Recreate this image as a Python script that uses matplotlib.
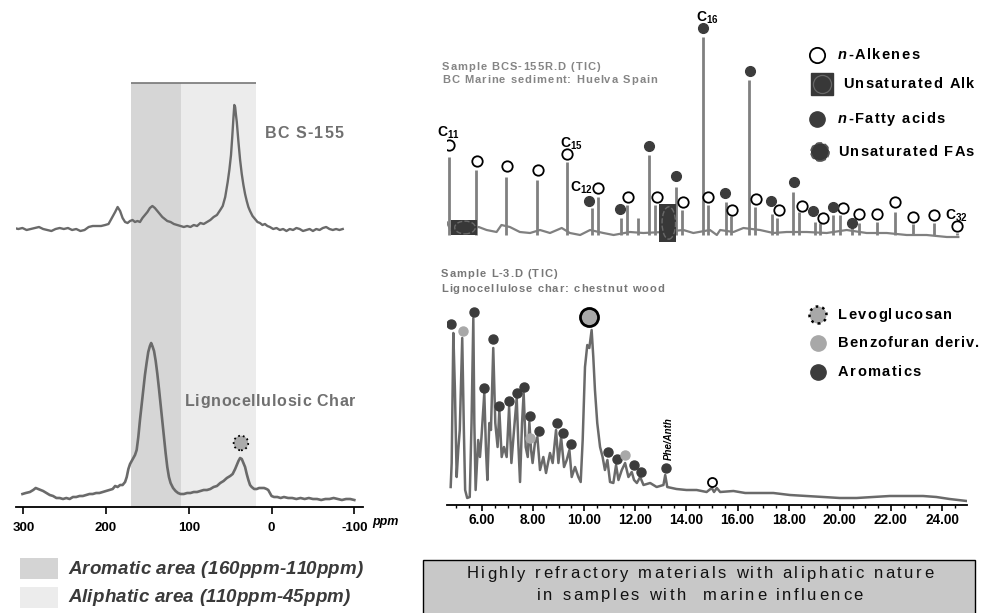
import numpy as np
import matplotlib.pyplot as plt
from matplotlib.patches import Rectangle, Ellipse
from matplotlib.ticker import MultipleLocator

plt.rcParams['font.family'] = ['Liberation Sans', 'DejaVu Sans']
plt.rcParams['axes.unicode_minus'] = False
plt.rcParams['mathtext.fontset'] = 'custom'
plt.rcParams['mathtext.rm'] = 'Liberation Sans:bold'
plt.rcParams['mathtext.it'] = 'Liberation Sans:italic:bold'
plt.rcParams['mathtext.bf'] = 'Liberation Sans:bold'

W, H = 987, 613

# ---- 13C NMR spectra (ppm, intensity) ----
bc_ppm = [316, 311, 306, 301, 296, 291, 286, 281, 276, 271, 266, 261, 256, 251, 246, 241,
          236, 231, 226, 221, 216, 211, 206, 201, 197, 193, 189, 186, 183, 180, 177, 174,
          171, 168, 165, 162, 159, 156, 153, 150, 147, 144, 141, 138, 135, 132, 129, 126,
          122, 118, 114, 110, 106, 102, 98, 94, 90, 86, 82, 78, 74, 70, 66, 62, 59, 56, 53,
          51, 49, 47.5, 46, 45, 44, 43, 42, 40, 38, 36, 34, 32, 30, 28, 26, 23, 20, 17, 14,
          11, 8, 5, 2, -2, -6, -10, -14, -18, -22, -26, -30, -34, -38, -42, -46, -50, -54,
          -58, -62, -66, -70, -74, -78, -82, -86]
bc_int = [280, 279, 278, 279, 277, 278, 279, 280, 278, 277, 276, 278, 279, 278, 279, 277,
          278, 276, 277, 280, 281, 281, 281, 282, 283, 289, 295, 300, 296, 289, 285, 284,
          286, 287, 285, 286, 285, 289, 292, 295, 299, 301, 299, 296, 293, 290, 288, 286,
          285, 283, 282, 281, 280, 281, 280, 282, 281, 284, 283, 285, 287, 290, 292, 297,
          301, 310, 325, 337, 352, 370, 390, 402, 400, 392, 385, 365, 347, 333, 322, 313,
          306, 300, 296, 291, 288, 285, 284, 282, 283, 281, 280, 278, 279, 277, 278, 276,
          278, 277, 279, 278, 276, 277, 278, 276, 278, 277, 279, 280, 278, 277, 278, 277, 278]

lig_ppm = [301, 297, 292, 288, 285, 282, 279, 276, 272, 268, 264, 260, 256, 252, 248, 244,
           240, 236, 232, 228, 224, 220, 216, 212, 208, 204, 200, 196, 192, 189, 186, 183,
           180, 177, 175, 173, 171, 169, 167, 165, 163, 161, 159, 157, 155, 153, 151, 149,
           147, 145.5, 144, 142, 140, 138, 136, 134, 132, 130, 128, 126, 124, 122, 119, 116,
           113, 110, 106, 102, 98, 94, 90, 86, 82, 78, 74, 70, 66, 62, 58, 54, 50, 47, 44,
           42, 40, 38, 36, 34, 32, 30, 28, 26, 24, 21, 18, 15, 12, 9, 6, 4, 2, 0, -3, -7,
           -11, -15, -20, -25, -30, -35, -40, -45, -50, -55, -60, -65, -70, -75, -80, -85,
           -90, -95, -100]
lig_int = [13, 14, 15, 17, 19, 18, 17, 16, 14, 12, 11, 9, 9, 8, 9, 8,
           10, 10, 11, 11, 12, 13, 13, 14, 14, 15, 16, 17, 18, 21, 20, 22,
           22, 25, 30, 38, 43, 46, 49, 52, 57, 70, 87, 102, 117, 132, 144, 155,
           161, 164, 161, 156, 146, 133, 118, 102, 86, 70, 54, 40, 30, 24, 19, 16,
           14, 13, 13, 14, 14, 15, 15, 16, 17, 17, 18, 20, 21, 24, 26, 29, 31, 33, 38,
           42, 46, 49, 48, 44, 40, 33, 27, 22, 20, 18, 18, 19, 19, 19, 18, 17, 14, 11, 10, 10,
           9, 10, 9, 9, 8, 9, 8, 9, 8, 8, 7, 8, 8, 9, 8, 7,
           8, 8, 7]

arom_region = (170, 110)
aliph_region = (110, 19)
char_mark = (37, 64)

# ---- Py-GC/MS chromatograms (retention time min, abundance) ----
bc_base_t = [4.49, 4.62, 4.77, 5.27, 5.87, 6.18, 6.57, 6.76, 7.09, 7.48, 7.88, 8.27, 8.66,
             9.12, 9.44, 9.84, 10.23, 10.75, 11.15, 11.79, 12.31, 13.1, 13.88, 14.27, 14.92,
             15.19, 15.32, 15.84, 16.23, 16.88, 17.4, 17.92, 18.71, 19.49, 20.27, 21.05,
             21.84, 22.62, 23.4, 24.19, 24.64]
bc_base_i = [15, 23, 15, 15, 18, 15, 13, 20, 18, 13, 12, 15, 12,
             17, 12, 10, 15, 12, 10, 13, 12, 13, 15, 12, 15,
             10, 15, 13, 17, 15, 12, 13, 13, 12, 15, 12,
             12, 10, 10, 8, 8]

bc_peak_t = [4.71, 5.78, 6.95, 8.15, 9.33, 10.32, 10.54, 11.43, 11.69, 12.12, 12.54, 12.78,
             13.58, 13.84, 14.64, 14.83, 15.54, 15.75, 16.46, 16.68, 17.34, 17.56, 18.18,
             18.41, 19.03, 19.23, 19.75, 20.01, 20.49, 20.77, 21.47, 22.18, 22.88, 23.7, 24.58]
bc_peak_i = [88, 75, 68, 65, 83, 37, 48, 27, 40, 27, 90, 40,
             58, 35, 208, 40, 43, 29, 165, 38, 31, 27, 53,
             33, 23, 22, 30, 30, 18, 22, 23, 33, 21, 22, 12]

alkene_t = [4.71, 5.8, 6.98, 8.18, 9.34, 10.54, 11.73, 12.83, 13.88, 14.86, 15.8, 16.73,
            17.64, 18.54, 19.35, 20.11, 20.77, 21.45, 22.18, 22.86, 23.7, 24.58]
alkene_i = [100, 84, 79, 75, 91, 57, 48, 48, 43, 48, 35, 46, 35, 39, 27, 37, 31, 31, 43, 28,
            30, 19]
fa_t = [10.2, 11.39, 12.54, 13.58, 14.64, 15.51, 16.49, 17.3, 18.2, 18.95, 19.75, 20.49]
fa_i = [44, 36, 99, 69, 217, 52, 174, 44, 63, 34, 38, 22]

unsat_alk_span = (4.78, 5.79, 10, 25)   # t0, t1, i0, i1
unsat_fa_span = (12.93, 13.59, 3, 41)

carbon_labels = ['11', '15', '12', '16', '32']
carbon_t = [4.67, 9.48, 9.88, 14.8, 24.57]
carbon_i = [112, 101, 57, 227, 29]

lc_t = [4.774, 4.813, 4.878, 4.94, 5.008, 5.07, 5.13, 5.226, 5.29, 5.34, 5.42, 5.52, 5.59,
        5.66, 5.70, 5.75, 5.85, 5.92, 5.98, 6.09, 6.156, 6.21, 6.287, 6.35, 6.44, 6.52,
        6.61, 6.678, 6.77, 6.86, 6.965, 7.06, 7.15, 7.253, 7.358, 7.42, 7.488, 7.566, 7.63,
        7.71, 7.79, 7.853, 7.92, 7.98, 8.07, 8.167, 8.27, 8.40, 8.505, 8.66, 8.766, 8.897,
        8.99, 9.095, 9.21, 9.316, 9.42, 9.51, 9.64, 9.77, 9.862, 9.94, 10.03, 10.12, 10.2,
        10.29, 10.355, 10.42, 10.51, 10.62, 10.72, 10.81, 10.907, 11.01, 11.14, 11.246,
        11.34, 11.47, 11.6, 11.73, 11.86, 11.95, 12.06, 12.19, 12.32, 12.58, 12.835, 13.1,
        13.17, 13.25, 13.61, 14.0, 14.4, 14.79, 14.99, 15.08, 15.19, 15.32, 15.84, 16.3,
        16.75, 17.4, 18.05, 18.7, 19.36, 20.0, 20.66, 21.3, 21.96, 22.6, 23.26, 23.78,
        24.3, 24.97]
lc_i = [18, 42, 172, 115, 28, 55, 75, 167, 75, 15, 7, 8, 82,
        187, 82, 15, 65, 48, 68, 112, 55, 25, 82, 75, 157, 82,
        58, 95, 48, 58, 48, 98, 42, 75, 107, 62, 23, 82, 112,
        58, 48, 83, 55, 42, 62, 68, 35, 48, 32, 52, 42, 75,
        42, 68, 38, 45, 55, 28, 38, 28, 23, 65, 138, 160, 157,
        175, 148, 115, 82, 58, 48, 35, 45, 23, 22, 40,
        25, 35, 42, 28, 33, 25, 22, 28, 20, 22, 18, 20,
        30, 18, 16, 15, 15, 13, 17, 13, 17, 13, 14, 12,
        12, 12, 10, 9, 8, 7, 7, 8, 9, 9, 9, 8,
        6, 4]

arom_t = [4.78, 5.68, 6.09, 6.42, 6.67, 7.06, 7.36, 7.64, 7.87, 8.22, 8.92, 9.16, 9.48,
          10.94, 11.27, 11.96, 12.22, 13.2]
arom_i = [181, 193, 117, 166, 99, 104, 112, 118, 89, 74, 82, 72, 61, 53, 46, 40, 33, 37]
benzo_t = [5.24, 7.89, 11.6]
benzo_i = [174, 67, 50]
levo_t, levo_i = 10.2, 188
lc_alkene_t, lc_alkene_i = 15.01, 23

DARK = '#3c3c3c'

fig = plt.figure(figsize=(W / 100, H / 100), dpi=100)
renderer = fig.canvas.get_renderer()


def rect(x0, y0, x1, y1):
    return [x0 / W, 1 - y1 / H, (x1 - x0) / W, (y1 - y0) / H]


# ---------- NMR panel ----------
ax = fig.add_axes(rect(16, 83, 363, 507))
ax.axvspan(*arom_region, color='#d6d6d6', lw=0, zorder=0)
ax.axvspan(*aliph_region, color='#ececec', lw=0, zorder=0)
ax.hlines(424, arom_region[0], aliph_region[1], color='#777777', lw=1.2, clip_on=False)
ax.plot(bc_ppm, bc_int, color='#6a6a6a', lw=1.7)
ax.plot(lig_ppm, lig_int, color='#6a6a6a', lw=1.9)
ax.scatter([char_mark[0]], [char_mark[1]], s=110, facecolor='#ababab', edgecolor='black',
           linewidths=1.3, linestyles=':', zorder=5)
ax.set_xlim(308.8, -110.5)
ax.set_ylim(0, 424)
for s in ['top', 'left', 'right']:
    ax.spines[s].set_visible(False)
ax.spines['bottom'].set_linewidth(1.3)
ax.set_yticks([])
ax.set_xticks([300, 200, 100, 0, -100])
ax.set_xticklabels(['300', '200', '100', '0', '-100'], fontweight='bold')
ax.tick_params(axis='x', length=5, width=1.2, labelsize=9.5, pad=6)
ax.set_facecolor('none')

# ---------- upper chromatogram ----------
cu = fig.add_axes(rect(447, 10, 967, 245))
cu.plot(bc_base_t, bc_base_i, color='#808080', lw=1.6)
cu.vlines(bc_peak_t, 10, bc_peak_i, color='#808080', lw=2.0)
for t0, t1, i0, i1 in [unsat_alk_span, unsat_fa_span]:
    cu.add_patch(Rectangle((t0, i0), t1 - t0, i1 - i0, facecolor='#383838',
                           edgecolor='none', zorder=4))
    cu.add_patch(Ellipse(((t0 + t1) / 2 + 0.05, (i0 + i1) / 2), (t1 - t0) * 0.8,
                         (i1 - i0) * 0.85, facecolor='none', edgecolor='#6a6a6a',
                         ls='--', lw=1.0, zorder=5))
cu.plot(alkene_t, alkene_i, 'o', ms=7.5, mfc='white', mec='black', mew=1.3, zorder=6)
cu.plot(fa_t, fa_i, 'o', ms=7, mfc=DARK, mec=DARK, zorder=6)
for lab, t, i in zip(carbon_labels, carbon_t, carbon_i):
    cu.text(t, i, r'$\mathbf{C_{%s}}$' % lab, fontsize=10, ha='center', va='center')
cu.set_xlim(4.63, 24.98)
cu.set_ylim(0, 235)
cu.axis('off')

# ---------- lower chromatogram ----------
cl = fig.add_axes(rect(447, 300, 967, 505))
cl.plot(lc_t, lc_i, color='#6a6a6a', lw=1.8)
cl.plot(arom_t, arom_i, 'o', ms=6.5, mfc=DARK, mec=DARK, zorder=6)
cl.plot(benzo_t, benzo_i, 'o', ms=6.5, mfc='#a8a8a8', mec='#a8a8a8', zorder=6)
cl.plot([levo_t], [levo_i], 'o', ms=13, mfc='#a8a8a8', mec='black', mew=2, zorder=6)
cl.plot([lc_alkene_t], [lc_alkene_i], 'o', ms=6.5, mfc='white', mec='black', mew=1.3, zorder=6)
cl.text(13.3, 66, 'Phe/Anth', rotation=90, fontsize=7, fontweight='bold',
        fontstyle='italic', ha='center', va='center')
cl.set_xlim(4.63, 24.98)
cl.set_ylim(0, 205)
for s in ['top', 'left', 'right']:
    cl.spines[s].set_visible(False)
cl.spines['bottom'].set_linewidth(1.3)
cl.set_yticks([])
ticks = np.arange(6, 25, 2)
cl.set_xticks(ticks)
cl.set_xticklabels(['%.2f' % v for v in ticks], fontweight='bold')
cl.xaxis.set_minor_locator(MultipleLocator(0.5))
cl.tick_params(axis='x', which='major', length=4, width=1.2, labelsize=9.8, pad=2)
cl.tick_params(axis='x', which='minor', length=2.5, width=1.0)
cl.set_facecolor('none')

# ---------- annotations / legends (pixel overlay) ----------
ov = fig.add_axes([0, 0, 1, 1])
ov.set_xlim(0, W)
ov.set_ylim(H, 0)
ov.axis('off')


def text_width(s, **kw):
    t = ov.text(0, 0, s, **kw)
    w = t.get_window_extent(renderer=renderer).width
    t.remove()
    return w


def spaced(x, y, s, track, ha='left', **kw):
    # text with extra letter spacing, as in the original figure
    bar = text_width('|', **kw)
    pos = [text_width(s[:i] + '|', **kw) - bar + i * track for i in range(len(s))]
    total = pos[-1] + text_width(s[-1], **kw)
    if ha == 'center':
        x = x - total / 2
    for ch, p in zip(s, pos):
        if ch != ' ':
            ov.text(x + p, y, ch, ha='left', va='center', **kw)
    return x + total


ov.text(372, 522, 'ppm', fontsize=9, fontweight='bold', fontstyle='italic', va='center')
spaced(304, 133, 'BC S-155', 1.1, ha='center', fontsize=11.5, fontweight='bold',
       color='#707070')
spaced(270, 401, 'Lignocellulosic Char', 0.7, ha='center', fontsize=11.5,
       fontweight='bold', color='#707070')

title_kw = dict(fontsize=8, fontweight='bold')
spaced(442, 67, 'Sample BCS-155R.D (TIC)', 1.0, color='#858585', **title_kw)
spaced(442, 80, 'BC Marine sediment: Huelva Spain', 1.0, color='#858585', **title_kw)
spaced(441, 274, 'Sample L-3.D (TIC)', 1.0, color='#777777', **title_kw)
spaced(441, 289, 'Lignocellulose char: chestnut wood', 1.0, color='#777777', **title_kw)

leg_kw = dict(fontsize=10.5, fontweight='bold', color='black')
LT = 1.4
# upper legend
ov.plot(817, 55, 'o', ms=11, mfc='white', mec='black', mew=1.3)
ov.text(838, 55, 'n', fontstyle='italic', va='center', **leg_kw)
spaced(838 + text_width('n', fontstyle='italic', **leg_kw) + LT, 55, '-Alkenes', LT, **leg_kw)
ov.plot(822, 84, 's', ms=16.5, mfc='#383838', mec='#383838')
ov.plot(822, 84, 'o', ms=13, mfc='none', mec='#666666', mew=0.9, ls='none')
spaced(843, 84, 'Unsaturated Alk', LT, **leg_kw)
ov.plot(817, 119, 'o', ms=11, mfc=DARK, mec=DARK)
ov.text(838, 119, 'n', fontstyle='italic', va='center', **leg_kw)
spaced(838 + text_width('n', fontstyle='italic', **leg_kw) + LT, 119, '-Fatty acids', LT,
       **leg_kw)
ov.scatter([820], [152], s=170, marker='o', facecolor='#383838', edgecolor='#555555',
           linewidths=1.2, linestyles='--')
spaced(838, 152, 'Unsaturated FAs', LT, **leg_kw)

# lower legend
ov.scatter([818], [315], s=150, facecolor='#a8a8a8', edgecolor='black', linewidths=1.8,
           linestyles=':')
spaced(838, 315, 'Levoglucosan', LT, **leg_kw)
ov.plot(818, 343, 'o', ms=11, mfc='#a8a8a8', mec='#a8a8a8')
spaced(838, 343, 'Benzofuran deriv.', 1.1, **leg_kw)
ov.plot(818, 372, 'o', ms=11, mfc=DARK, mec=DARK)
spaced(838, 372, 'Aromatics', LT, **leg_kw)

# bottom-left key
ov.add_patch(Rectangle((20, 558), 38, 21, facecolor='#d4d4d4', edgecolor='none'))
ov.add_patch(Rectangle((20, 587), 38, 21, facecolor='#ececec', edgecolor='none'))
key_kw = dict(fontsize=13.5, fontweight='bold', fontstyle='italic', color='#3a3a3a')
spaced(68, 569, 'Aromatic area (160ppm-110ppm)', 0.2, **key_kw)
spaced(68, 598, 'Aliphatic area (110ppm-45ppm)', 0.2, **key_kw)

# bottom-right box
ov.add_patch(Rectangle((423, 560), 552, 70, facecolor='#c8c8c8', edgecolor='black',
                       lw=1.0, clip_on=False))
box_kw = dict(fontsize=12, color='#111111')
spaced(700, 574, 'Highly refractory materials with aliphatic nature', 2.5, ha='center',
       **box_kw)
spaced(700, 595, 'in samples with  marine influence', 2.5, ha='center', **box_kw)

fig.savefig('out.png', dpi=100)
